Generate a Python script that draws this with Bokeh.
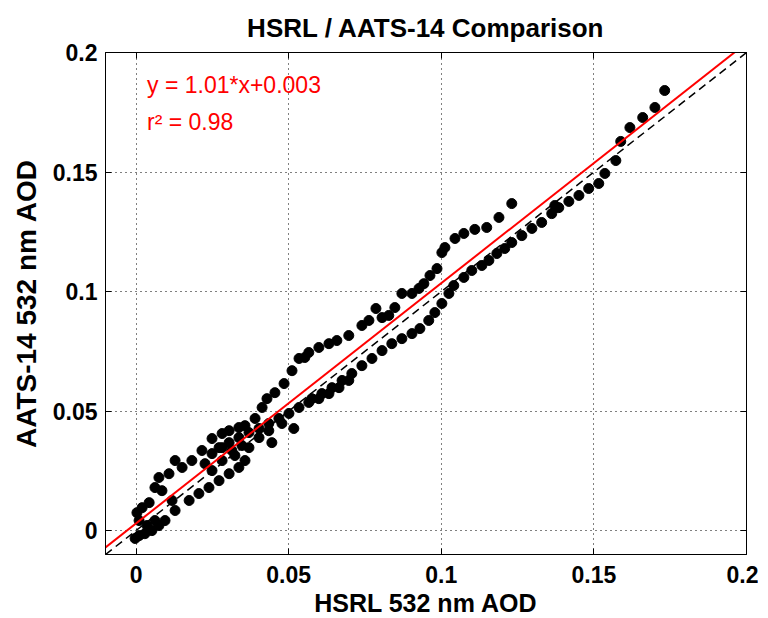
from bokeh.plotting import figure
from bokeh.models import LinearAxis, Range1d, FixedTicker, Label, CustomJSTickFormatter
from bokeh.embed import file_html
from bokeh.resources import INLINE

hsrl = [-0.0003, 0.001, 0.0029, 0.0052, 0.0036, 0.0075, 0.0062, 0.0095, 0.001, 0.0128, 0.0118,
        0.0003, 0.002, 0.0043, 0.0085, 0.0062, 0.0075, 0.0108, 0.0128, 0.0151, 0.0183, 0.0226,
        0.0216, 0.0249, 0.0282, 0.0314, 0.0347,
        0.0174, 0.0206, 0.0239, 0.0272, 0.0305, 0.0337, 0.0357, 0.0249, 0.0282, 0.0324, 0.037,
        0.0403, 0.0435, 0.0478, 0.0272, 0.0305, 0.0337, 0.037, 0.0403, 0.0435, 0.0468, 0.0501,
        0.0534, 0.0566, 0.0599, 0.0632, 0.0665, 0.0697, 0.0576, 0.0609, 0.0642, 0.0675, 0.0707,
        0.074, 0.0773, 0.0806, 0.0838, 0.0871, 0.0904, 0.093, 0.0959, 0.0979, 0.1002, 0.1025,
        0.1041, 0.1074, 0.11, 0.1133, 0.1156, 0.1182, 0.1208, 0.1231, 0.1264, 0.1297, 0.1329,
        0.1362, 0.1385, 0.1418, 0.1451, 0.1483, 0.1516, 0.1536, 0.1572,
        0.0249, 0.0282, 0.0305, 0.0337, 0.0357, 0.039, 0.0413, 0.0429, 0.0455, 0.0485, 0.0511,
        0.0534, 0.0553, 0.0566, 0.0599, 0.0632, 0.0658, 0.0697, 0.074, 0.0763, 0.0786, 0.0806,
        0.0828, 0.0848, 0.0871, 0.0904, 0.0927, 0.0943, 0.0963, 0.0986, 0.1002, 0.1012, 0.1045,
        0.1074, 0.111, 0.1149, 0.1189, 0.1231,
        0.1372, 0.1588, 0.1618, 0.166, 0.170, 0.1732,
        0.0517, 0.0445]
aats = [-0.0033, -0.0021, -0.0013, 0.0, 0.0021, 0.0021, 0.0042, 0.0042, 0.0042, 0.0084, 0.0126,
        0.0075, 0.0096, 0.0117, 0.0167, 0.018, 0.0222, 0.0238, 0.0293, 0.0264, 0.0293, 0.028,
        0.0335, 0.0322, 0.0347, 0.0335, 0.0356,
        0.0126, 0.0155, 0.018, 0.0209, 0.0238, 0.0264, 0.0293, 0.0251, 0.0293, 0.0314, 0.0347,
        0.0389, 0.0418, 0.0448, 0.0347, 0.0368, 0.0389, 0.041, 0.0427, 0.0448, 0.0469, 0.049,
        0.0515, 0.0536, 0.0552, 0.0573, 0.0598, 0.0628, 0.0552, 0.0573, 0.0598, 0.0628, 0.0657,
        0.069, 0.072, 0.0753, 0.0782, 0.0803, 0.0824, 0.0845, 0.0879, 0.0912, 0.095, 0.0992,
        0.1025, 0.1059, 0.1088, 0.1109, 0.113, 0.1159, 0.118, 0.1205, 0.1234, 0.1264, 0.1289,
        0.1326, 0.1351, 0.1377, 0.1402, 0.1431, 0.1452, 0.1494, 0.1548,
        0.0385, 0.0406, 0.0418, 0.0431, 0.0439, 0.0469, 0.0515, 0.0552, 0.0577, 0.0615, 0.0669,
        0.072, 0.0724, 0.0745, 0.0766, 0.0782, 0.0795, 0.0816, 0.0858, 0.0879, 0.0929, 0.0891,
        0.09, 0.0933, 0.0992, 0.0992, 0.1013, 0.1033, 0.1067, 0.1096, 0.1163, 0.1184, 0.1222,
        0.1243, 0.126, 0.1268, 0.131, 0.1368,
        0.136, 0.1628, 0.1686, 0.1728, 0.177, 0.1841,
        0.0427, 0.0368]

fit_slope = 1.005
fit_intercept = 0.003
line_x = [-0.01, 0.2]
ticks = [0, 0.05, 0.1, 0.15, 0.2]
tick_labels = {0: "0", 0.05: "0.05", 0.1: "0.1", 0.15: "0.15", 0.2: "0.2"}

FONT = "Liberation Sans"

p = figure(frame_width=641, frame_height=502, output_backend="svg", toolbar_location=None,
           x_range=Range1d(-0.01, 0.2), y_range=Range1d(-0.01, 0.2),
           min_border_left=105, min_border_right=12, min_border_top=52, min_border_bottom=64,
           title="HSRL / AATS-14 Comparison")
p.title.text_font = FONT
p.title.text_font_size = "26px"
p.title.text_font_style = "bold"
p.title.text_color = "black"
p.title.align = "center"
p.title.offset = 0
p.title.standoff = 19
p.outline_line_color = "black"
p.outline_line_width = 1
p.background_fill_color = "white"
p.border_fill_color = "white"

def style_axis(ax, labels=True):
    ax.ticker = FixedTicker(ticks=ticks)
    ax.major_tick_in = 6
    ax.major_tick_out = 0
    ax.minor_tick_in = 0
    ax.minor_tick_out = 0
    ax.axis_line_color = "black"
    ax.major_tick_line_color = "black"
    if labels:
        ax.major_label_overrides = tick_labels
        ax.major_label_text_font = FONT
        ax.major_label_text_font_size = "23px"
        ax.major_label_text_font_style = "bold"
        ax.major_label_text_color = "black"
        ax.axis_label_text_font = FONT
        ax.axis_label_text_font_size = "25px"
        ax.axis_label_text_font_style = "bold"
        ax.axis_label_text_color = "black"
    else:
        ax.formatter = CustomJSTickFormatter(code="return '';")
        ax.major_label_standoff = 0

style_axis(p.xaxis[0])
style_axis(p.yaxis[0])
p.xaxis[0].axis_label = "HSRL 532 nm AOD"
p.yaxis[0].axis_label = "AATS-14 532 nm AOD"
p.yaxis[0].axis_label_text_font_size = "28px"
p.xaxis[0].major_label_standoff = 11
p.xaxis[0].axis_label_standoff = 3
p.yaxis[0].major_label_standoff = 8
p.yaxis[0].axis_label_standoff = 8

top_ax = LinearAxis()
right_ax = LinearAxis()
style_axis(top_ax, labels=False)
style_axis(right_ax, labels=False)
p.add_layout(top_ax, "above")
p.add_layout(right_ax, "right")

for g in (p.xgrid[0], p.ygrid[0]):
    g.ticker = FixedTicker(ticks=ticks)
    g.grid_line_color = "black"
    g.grid_line_dash = "1 4"
    g.grid_line_width = 1
    g.grid_line_alpha = 1.0

p.line(line_x, line_x, line_color="black", line_width=1.5, line_dash="8 5")
p.scatter(hsrl, aats, size=10, fill_color="black", line_color="black", marker="circle")
p.line(line_x, [fit_slope * v + fit_intercept for v in line_x], line_color="red", line_width=2)

p.add_layout(Label(x=0.0036, y=0.1862, text="y = 1.01*x+0.003", text_color="red",
                   text_font=FONT, text_font_size="23px", text_baseline="middle"))
p.add_layout(Label(x=0.0036, y=0.1711, text="r² = 0.98", text_color="red",
                   text_font=FONT, text_font_size="23px", text_baseline="middle"))

open("out.html", "w").write(file_html(p, INLINE))
